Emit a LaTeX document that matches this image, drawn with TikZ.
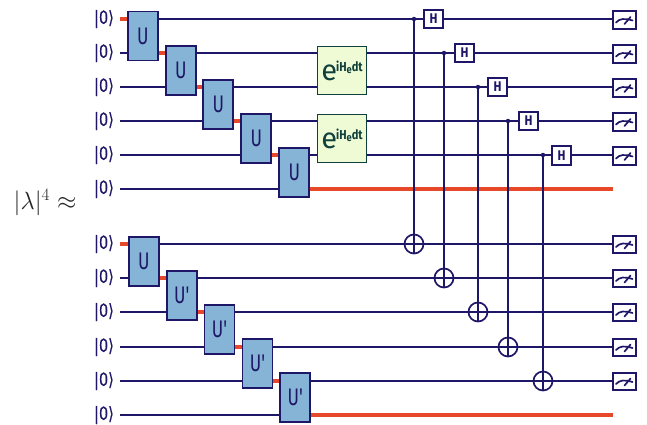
\documentclass[tikz,border=0pt]{standalone}
\usepackage{fontspec}
\setmainfont{Fira Sans}
\newfontfamily\ketfont[FakeStretch=0.8,FakeBold=0.5]{DejaVu Sans}
\newfontfamily\handfont[FakeStretch=0.72]{Fira Sans}
\newfontfamily\narrowbold[FakeStretch=0.85]{Fira Sans Bold}
\pgfdeclarelayer{wires}
\pgfsetlayers{wires,main}
\definecolor{navy}{HTML}{1E1666}
\definecolor{hot}{HTML}{E8482A}
\definecolor{ublue}{HTML}{85B4D6}
\definecolor{egreen}{HTML}{EFFBD5}
\definecolor{edark}{HTML}{10403C}
\tikzset{
  x=1pt,y=-1pt,
  qw/.style={draw=navy,line width=1.7pt},
  hw/.style={draw=hot,line width=3.05pt},
  ket/.style={text=navy,font=\ketfont\fontsize{18}{18}\selectfont,anchor=east,inner sep=0pt},
  ugate/.style={draw=navy,fill=ublue,line width=1.7pt,minimum width=30pt,minimum height=49pt,inner sep=0pt,text=navy,font=\handfont\fontsize{24}{24}\selectfont},
  egate/.style={draw=edark,fill=egreen,line width=1.7pt,minimum width=49pt,minimum height=48pt,inner sep=0pt,text=edark},
  hgate/.style={draw=navy,fill=white,line width=1.7pt,minimum width=19pt,minimum height=18.5pt,inner sep=0pt,text=navy,font=\narrowbold\fontsize{14}{14}\selectfont},
  meter/.style={draw=navy,fill=white,line width=1.7pt,minimum width=23pt,minimum height=17.5pt,inner sep=0pt},
  ctrl/.style={circle,fill=navy,inner sep=0pt,minimum size=4.5pt},
  targ/.style={circle,draw=navy,line width=1.7pt,inner sep=0pt,minimum size=19pt},
  needle/.style={draw=navy,line width=1.7pt,line cap=round},
}
\newcommand{\eterm}{\fontsize{29}{29}\selectfont e\hspace{-1pt}\raisebox{9pt}{\narrowbold\fontsize{13}{13}\selectfont iH\raisebox{-2.5pt}{\fontsize{11}{11}\selectfont e}dt}}
\begin{document}
\begin{tikzpicture}
\useasboundingbox (0,0) rectangle (647,424);
\node[anchor=center,inner sep=0pt,text=black!85,font=\fontsize{24}{24}\selectfont] (lambda) at (45,203) {$|\lambda|^4\approx$};
% top register
\foreach \n/\y in {1/19,2/53,3/87,4/121,5/155,6/189}{
  \node[ket] (ka\n) at (114,\y) {|0⟩};
  \coordinate (sa\n) at (120,\y);
}
\foreach \n/\y in {1/19,2/53,3/87,4/121,5/155}{
  \node[meter] (ma\n) at (624.5,\y+1) {};
  \draw[needle] ([shift={(-8.5,2.5)}]ma\n.center) .. controls ([shift={(-5,-1.5)}]ma\n.center) and ([shift={(0,-2)}]ma\n.center) .. ([shift={(8,0.5)}]ma\n.center);
  \draw[needle] ([shift={(0,4)}]ma\n.center) -- ([shift={(6,-3)}]ma\n.center);
}
\coordinate (ea) at (613,189);
\node[ugate] (ua1) at (142.75,36) {U};
\node[ugate] (ua2) at (180.75,70.25) {U};
\node[ugate] (ua3) at (218.25,104.25) {U};
\node[ugate] (ua4) at (256.25,138.5) {U};
\node[ugate] (ua5) at (294.25,172.5) {U};
\node[egate] (ga1) at (342,70.5) {\eterm};
\node[egate] (ga2) at (342,138.5) {\eterm};
\node[hgate] (ha1) at (433.5,19) {H};
\node[hgate] (ha2) at (464.5,53) {H};
\node[hgate] (ha3) at (497.5,87) {H};
\node[hgate] (ha4) at (528.5,121) {H};
\node[hgate] (ha5) at (561.5,155.5) {H};
% bottom register
\foreach \n/\y in {1/244,2/278,3/312,4/347,5/381,6/415}{
  \node[ket] (kb\n) at (114,\y) {|0⟩};
  \coordinate (sb\n) at (120,\y);
}
\foreach \n/\y in {1/244,2/278,3/312,4/347,5/381}{
  \node[meter] (mb\n) at (624.5,\y+0.5) {};
  \draw[needle] ([shift={(-8.5,2.5)}]mb\n.center) .. controls ([shift={(-5,-1.5)}]mb\n.center) and ([shift={(0,-2)}]mb\n.center) .. ([shift={(8,0.5)}]mb\n.center);
  \draw[needle] ([shift={(0,4)}]mb\n.center) -- ([shift={(6,-3)}]mb\n.center);
}
\coordinate (eb) at (613,415);
\node[ugate] (ub1) at (143.75,261.5) {U};
\node[ugate] (ub2) at (181.75,295.5) {U'};
\node[ugate] (ub3) at (219.5,329.5) {U'};
\node[ugate] (ub4) at (257.5,363.5) {U'};
\node[ugate] (ub5) at (295.25,397.75) {U'};
\node[targ] (ta1) at (414,244) {};
\node[targ] (ta2) at (444,278) {};
\node[targ] (ta3) at (478,312) {};
\node[targ] (ta4) at (508,347) {};
\node[targ] (ta5) at (543,381) {};
\node[ctrl] (ca1) at (414,19) {};
\node[ctrl] (ca2) at (444,53) {};
\node[ctrl] (ca3) at (478,87) {};
\node[ctrl] (ca4) at (508,121) {};
\node[ctrl] (ca5) at (543,155) {};
\begin{pgfonlayer}{wires}
  \foreach \r in {a,b}{
    \foreach \n in {1,...,5}{
      \draw[qw] (s\r\n) -- (m\r\n.west |- s\r\n);
    }
    \draw[qw] (s\r6) -- (u\r5.west |- s\r6);
  }
  \draw[hw] (sa1) -- (ua1.west |- sa1);
  \draw[hw] (ua1.east |- sa2) -- (ua2.west |- sa2);
  \draw[hw] (ua2.east |- sa3) -- (ua3.west |- sa3);
  \draw[hw] (ua3.east |- sa4) -- (ua4.west |- sa4);
  \draw[hw] (ua4.east |- sa5) -- (ua5.west |- sa5);
  \draw[hw] (ua5.east |- sa6) -- (ea);
  \draw[hw] (sb1) -- (ub1.west |- sb1);
  \draw[hw] (ub1.east |- sb2) -- (ub2.west |- sb2);
  \draw[hw] (ub2.east |- sb3) -- (ub3.west |- sb3);
  \draw[hw] (ub3.east |- sb4) -- (ub4.west |- sb4);
  \draw[hw] (ub4.east |- sb5) -- (ub5.west |- sb5);
  \draw[hw] (ub5.east |- sb6) -- (eb);
  \foreach \n in {1,...,5}{
    \draw[qw] (ca\n) -- (ta\n.south);
  }
\end{pgfonlayer}
\end{tikzpicture}
\end{document}
